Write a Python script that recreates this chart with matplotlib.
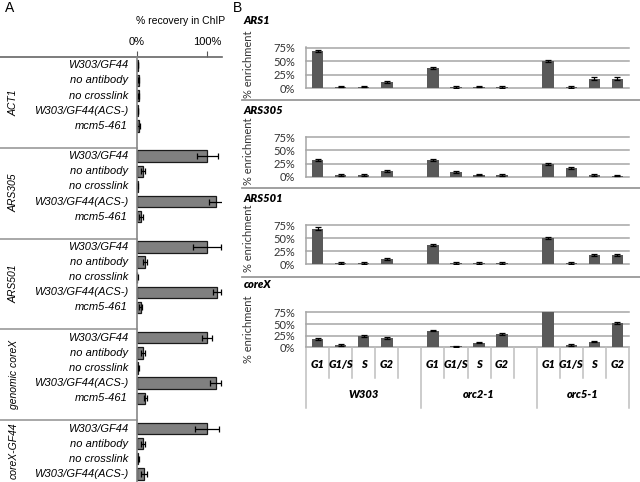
import matplotlib
matplotlib.use("Agg")
import matplotlib.pyplot as plt
from matplotlib.lines import Line2D
import matplotlib.transforms as mtransforms
import numpy as np

# ---------------- data: panel A ----------------
groups_A = ["ACT1", "ARS305", "ARS501", "genomic coreX", "coreX-GF44"]
conds5 = ["W303/GF44", "no antibody", "no crosslink", "W303/GF44(ACS-)", "mcm5-461"]
conds4 = ["W303/GF44", "no antibody", "no crosslink", "W303/GF44(ACS-)"]

act1_rec = [1.5, 2.5, 2.5, 1.5, 2.5]
act1_err = [0.5, 0.5, 0.5, 0.5, 2.0]
ars305_rec = [100, 8, 1, 113, 6]
ars305_err = [15, 3, 1, 11, 3]
ars501_rec = [100, 11, 0.5, 114, 5]
ars501_err = [20, 3, 0.5, 6, 2]
genomic_rec = [100, 8, 2, 112, 12]
genomic_err = [7, 3, 1, 8, 2]
gf44_rec = [100, 8, 2, 10]
gf44_err = [17, 3, 1, 4]

recA = [act1_rec, ars305_rec, ars501_rec, genomic_rec, gf44_rec]
errA = [act1_err, ars305_err, ars501_err, genomic_err, gf44_err]
condsA = [conds5, conds5, conds5, conds5, conds4]
ticksA = [0, 100]
ticklabelsA = ["0%", "100%"]

# ---------------- data: panel B ----------------
loci_B = ["ARS1", "ARS305", "ARS501", "coreX"]
strains = ["W303", "orc2-1", "orc5-1"]
phases = ["G1", "G1/S", "S", "G2"]

ars1_enr = [[69, 3, 3, 11], [38, 2, 3, 2], [50, 2, 18, 18]]
ars1_err = [[2, 1.5, 1.5, 2], [2, 1.5, 1.5, 1.5], [2, 1.5, 2, 2]]
ars305_enr = [[32, 3, 3, 10], [32, 9, 4, 3], [24, 16, 3, 2]]
ars305_err = [[2, 1.5, 1.5, 2], [2, 2, 1.5, 1.5], [2, 2, 1.5, 1.5]]
ars501_enr = [[69, 3, 3, 11], [38, 3, 3, 2], [50, 2, 18, 18]]
ars501_err = [[2, 1.5, 1.5, 2], [2, 1.5, 1.5, 1.5], [2, 1.5, 2, 2]]
corex_enr = [[17, 5, 24, 20], [36, 2, 10, 28], [85, 5, 12, 53]]
corex_err = [[2, 1.5, 2, 2], [2, 1, 1.5, 2], [2, 1.5, 1.5, 2]]

enrB = [ars1_enr, ars305_enr, ars501_enr, corex_enr]
errB = [ars1_err, ars305_err, ars501_err, corex_err]
yticksB = [0, 25, 50, 75]
yticklabelsB = ["0%", "25%", "50%", "75%"]

# ---------------- layout helpers ----------------
W, H = 640, 482
fig = plt.figure(figsize=(6.4, 4.82), dpi=100)


def box(x0, y0, x1, y1):
    return [x0 / W, 1 - y1 / H, (x1 - x0) / W, (y1 - y0) / H]


def fline(x0, y0, x1, y1, **kw):
    fig.add_artist(Line2D([x0 / W, x1 / W], [1 - y0 / H, 1 - y1 / H],
                          transform=fig.transFigure, **kw))


ARIAL = ["Liberation Sans", "DejaVu Sans"]
CAL = ["Lato", "DejaVu Sans"]

# ---------------- Panel A ----------------
x0px, zero_px, right_px = 0, 137, 222
pxper = 0.703  # px per percent
row0_px, rowh = 65.7, 15.12
axA = fig.add_axes(box(x0px, 57, right_px, H))
xl = (x0px - zero_px) / pxper
xr = (right_px - zero_px) / pxper
ytop = -0.55
ybot = (H - row0_px) / rowh
axA.set_xlim(xl, xr)
axA.set_ylim(ybot, ytop)
for s in axA.spines.values():
    s.set_visible(False)
axA.xaxis.tick_top()
axA.set_xticks(ticksA)
axA.set_xticklabels(ticklabelsA, fontsize=8, family=ARIAL)
axA.tick_params(axis="x", length=4, width=0.8, color="#555555", pad=3)
axA.set_yticks([])

for g, grp in enumerate(groups_A):
    rows = [6 * g + i for i in range(len(condsA[g]))]
    axA.barh(rows, recA[g], height=0.75, xerr=errA[g], color="#808080",
             edgecolor="#1a1a1a", linewidth=0.9,
             error_kw=dict(ecolor="black", elinewidth=0.9, capsize=2.5, capthick=0.9),
             zorder=3)
    for r, c in zip(rows, condsA[g]):
        axA.text((128 - zero_px) / pxper, r, c, ha="right", va="center",
                 fontsize=8, style="italic", family=ARIAL)
    gtop = 6 * g - 0.55
    gbot = min(6 * g + 5.45, ybot)
    axA.text((14 - zero_px) / pxper, (gtop + gbot) / 2, grp, rotation=90,
             ha="center", va="center", fontsize=7.5, style="italic", family=ARIAL)
    if g == 0:
        axA.plot([xl, xr], [gtop, gtop], color="#666666", lw=1.2, zorder=4,
                 clip_on=False)
    else:
        axA.plot([xl, 0], [gtop, gtop], color="#9a9a9a", lw=1.2, zorder=4)
axA.plot([0, 0], [ytop, ybot], color="#888888", lw=1.2, zorder=4, clip_on=False)

fig.text(181 / W, 1 - 21.5 / H, "% recovery in ChIP", ha="center", va="center",
         fontsize=7.5, family=ARIAL)
fig.text(5 / W, 1 - 8 / H, "A", ha="left", va="center", fontsize=10, family=ARIAL)

# ---------------- Panel B ----------------
fig.text(233 / W, 1 - 8 / H, "B", ha="left", va="center", fontsize=10, family=ARIAL)
boxes = [(47.3, 88.3), (136.7, 176.7), (225.0, 264.3), (312.0, 347.3)]
title_y = [20, 111, 198, 284]
ylabel_y = [64, 151, 238, 329]
sep_y = [100, 188, 276.7]
xl_px, xr_px = 306, 629
slot_start = [0, 5, 10]
GRID = "#a6a6a6"

for k, locus in enumerate(loci_B):
    t, b = boxes[k]
    ax = fig.add_axes(box(xl_px, t, xr_px, b))
    ax.set_xlim(-0.5, 13.5)
    ax.set_ylim(0, 75.8)
    for s in ["top", "right", "bottom"]:
        ax.spines[s].set_visible(False)
    ax.spines["left"].set_color(GRID)
    ax.spines["left"].set_linewidth(1.1)
    for yv in yticksB:
        ax.axhline(yv, color=GRID, lw=1.1, zorder=1, clip_on=False)
    ax.set_yticks(yticksB)
    ax.set_yticklabels(yticklabelsB, fontsize=8, family=CAL, color="#333333")
    ax.tick_params(axis="y", length=0, pad=8)
    ax.set_xticks([])
    for si, st in enumerate(strains):
        xs = [slot_start[si] + p for p in range(len(phases))]
        ax.bar(xs, enrB[k][si], width=0.5, color="#595959", zorder=3,
               yerr=errB[k][si],
               error_kw=dict(ecolor="black", elinewidth=0.9, capsize=2.2,
                             capthick=0.9, zorder=4))
    fig.text(244 / W, 1 - title_y[k] / H, locus, ha="left", va="center",
             fontsize=8, weight="heavy", style="italic", family=CAL)
    fig.text(249 / W, 1 - ylabel_y[k] / H, "% enrichment", rotation=90,
             ha="center", va="center", fontsize=8, family=CAL, color="#333333")
    if k < 3:
        fline(242, sep_y[k], 640, sep_y[k], color="#999999", lw=1.3)
    else:
        hpx = b - t

        def ya(ypx):
            return -(ypx - b) / hpx

        trans = mtransforms.blended_transform_factory(ax.transData, ax.transAxes)
        TBL = "#bfbfbf"
        for edge in range(15):
            xe = edge - 0.5
            full = edge in (0, 5, 10, 14)
            yend = ya(408.3) if full else ya(378.3)
            ax.add_line(Line2D([xe, xe], [0, yend], transform=trans, color=TBL,
                               lw=1.1, clip_on=False))
        for si, st in enumerate(strains):
            for p, ph in enumerate(phases):
                ax.text(slot_start[si] + p, ya(365), ph, transform=trans,
                        ha="center", va="center", fontsize=8, weight="heavy",
                        style="italic", family=CAL)
            end = 14 if si == 2 else slot_start[si] + 5
            ax.text((slot_start[si] + end) / 2 - 0.5, ya(395), st, transform=trans,
                    ha="center", va="center", fontsize=8, weight="heavy",
                    style="italic", family=CAL)

fig.savefig("out.png", dpi=100)
